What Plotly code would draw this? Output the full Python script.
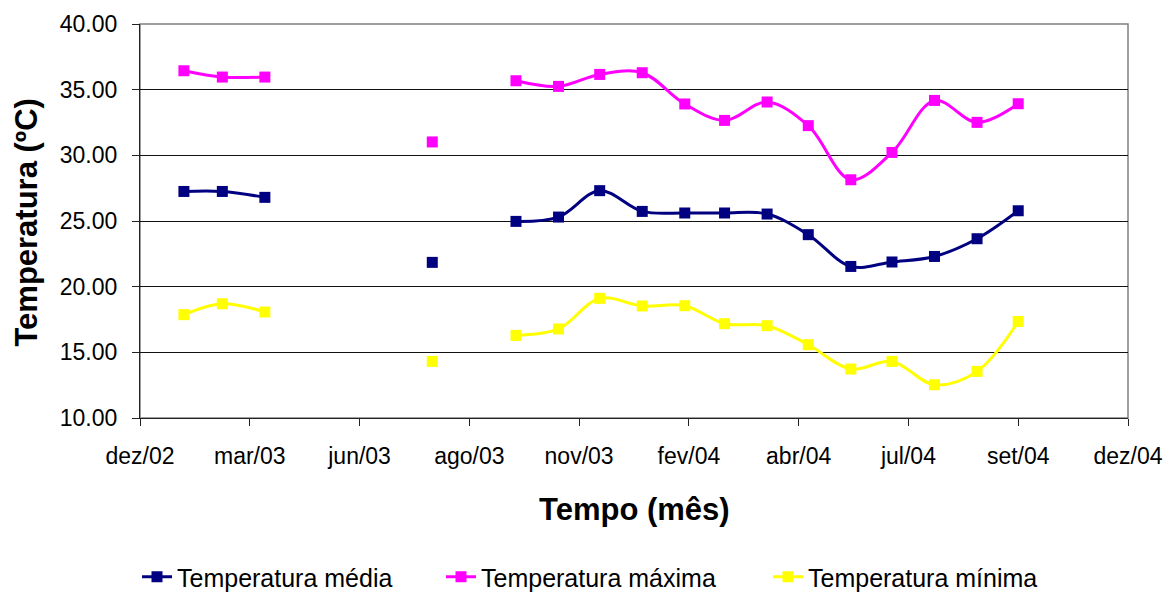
import plotly.graph_objects as go
import pandas as pd

# ---- data ----
dates = ["2003-01-31", "2003-02-28", "2003-03-31", "2003-04-30", "2003-05-31",
         "2003-06-30", "2003-07-31", "2003-08-31", "2003-09-30", "2003-10-31",
         "2003-11-30", "2003-12-31", "2004-01-31", "2004-02-29", "2004-03-31",
         "2004-04-30", "2004-05-31", "2004-06-30", "2004-07-31", "2004-08-31",
         "2004-09-30"]
temp_media = [27.25, 27.25, 26.80, None, None, None, 21.85, None, 24.97, 25.30,
              27.31, 25.73, 25.61, 25.61, 25.53, 23.96, 21.54, 21.88, 22.30,
              23.65, 25.78]
temp_maxima = [36.44, 35.96, 35.96, None, None, None, 31.02, None, 35.68, 35.25,
               36.16, 36.29, 33.91, 32.66, 34.06, 32.26, 28.14, 30.22, 34.18,
               32.51, 33.93]
temp_minima = [17.87, 18.70, 18.07, None, None, None, 14.31, None, 16.29, 16.78,
               19.11, 18.53, 18.55, 17.18, 17.03, 15.58, 13.73, 14.31, 12.53,
               13.55, 17.35]
series_names = ["Temperatura média", "Temperatura máxima", "Temperatura mínima"]
series_colors = ["#000080", "#FF00FF", "#FFFF00"]
tick_labels = ["dez/02", "mar/03", "jun/03", "ago/03", "nov/03",
               "fev/04", "abr/04", "jul/04", "set/04", "dez/04"]
axis_start = "2002-12-30"
tick_step_days = 80

tickvals = [d.strftime("%Y-%m-%d") for d in
            pd.date_range(axis_start, periods=len(tick_labels),
                          freq=f"{tick_step_days}D")]

FONT = "Liberation Sans, Arial, sans-serif"
W, H = 1169, 592
ML, MR, MT, MB = 140, 41, 24, 174
plot_w = W - ML - MR
plot_h = H - MT - MB

legend_ids = ["legend", "legend2", "legend3"]
legend_left_px = [137, 441, 768]   # left edge of each legend entry
legend_center_px = 577

fig = go.Figure()
for name, vals, col, lid in zip(series_names,
                                [temp_media, temp_maxima, temp_minima],
                                series_colors, legend_ids):
    fig.add_trace(go.Scatter(
        x=dates, y=vals, name=name, mode="lines+markers",
        connectgaps=False, legend=lid,
        line=dict(color=col, width=3, shape="spline", smoothing=1),
        marker=dict(symbol="square", size=11, color=col, line=dict(width=0)),
    ))

legend_layout = {}
for lid, lx in zip(legend_ids, legend_left_px):
    legend_layout[lid] = dict(
        orientation="h", xanchor="left", yanchor="middle",
        x=(lx - ML) / plot_w, y=(H - MB - legend_center_px) / plot_h,
        font=dict(size=25, family=FONT), bgcolor="rgba(0,0,0,0)",
    )

fig.update_layout(
    width=W, height=H,
    margin=dict(l=ML, r=MR, t=MT, b=MB, autoexpand=False),
    paper_bgcolor="white", plot_bgcolor="white",
    font=dict(family=FONT, color="black"),
    showlegend=True,
    xaxis=dict(
        type="date", range=[tickvals[0], tickvals[-1]],
        tickmode="array", tickvals=tickvals, ticktext=tick_labels,
        ticks="outside", ticklen=7, tickcolor="#222", tickwidth=1,
        showline=True, linecolor="#222", linewidth=1.2,
        showgrid=False, zeroline=False,
        tickfont=dict(size=23, family=FONT),
        ticklabelstandoff=10,
    ),
    yaxis=dict(
        range=[10, 40], tickmode="linear", tick0=10, dtick=5,
        tickformat=".2f",
        ticks="outside", ticklen=7, tickcolor="#222", tickwidth=1,
        showline=True, linecolor="#222", linewidth=1.2,
        showgrid=True, gridcolor="#111", gridwidth=1, zeroline=False,
        tickfont=dict(size=23, family=FONT),
        ticklabelstandoff=10,
    ),
    shapes=[dict(type="rect", xref="paper", yref="paper", x0=0, y0=0, x1=1, y1=1,
                 line=dict(color="#808080", width=1.5), layer="below")],
    annotations=[
        dict(text="<b>Tempo (mês)</b>", xref="paper", yref="paper",
             x=0.5, y=-0.2335, xanchor="center", yanchor="middle",
             showarrow=False, font=dict(size=31, family=FONT)),
        dict(text="<b>Temperatura (ºC)</b>", xref="paper", yref="paper",
             x=-0.115, y=0.497, xanchor="center", yanchor="middle",
             textangle=-90, showarrow=False, font=dict(size=31, family=FONT)),
    ],
    **legend_layout,
)

fig.write_html("out.html")
